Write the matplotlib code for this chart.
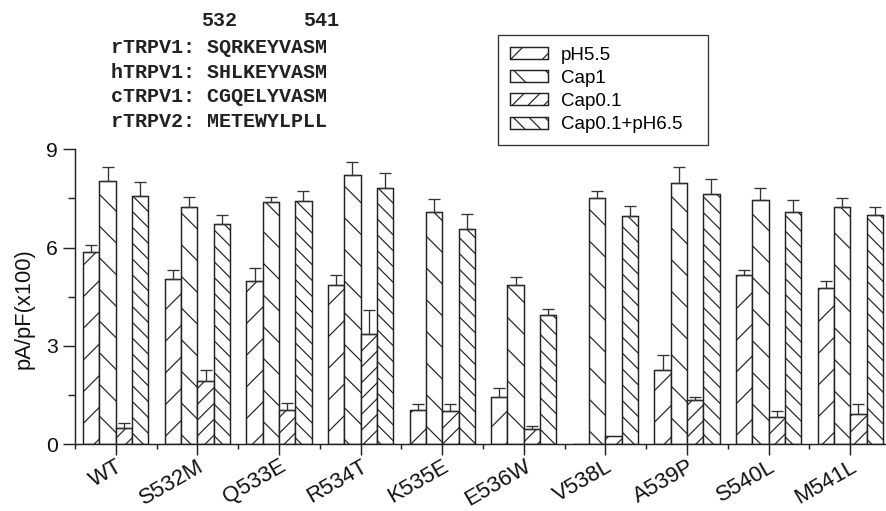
import numpy as np
import matplotlib
matplotlib.use('Agg')
import matplotlib.pyplot as plt
from matplotlib.ticker import FixedLocator

W, H, DPI = 887, 511, 190

mutants = ['WT', 'S532M', 'Q533E', 'R534T', 'K535E', 'E536W',
           'V538L', 'A539P', 'S540L', 'M541L']
series = ['pH5.5', 'Cap1', 'Cap0.1', 'Cap0.1+pH6.5']

ph55 = [5.85, 5.03, 4.97, 4.85, 1.03, 1.45, 0.0, 2.26, 5.15, 4.76]
ph55_err = [0.22, 0.27, 0.42, 0.32, 0.18, 0.25, 0.0, 0.45, 0.16, 0.23]
cap1 = [8.03, 7.25, 7.39, 8.20, 7.09, 4.87, 7.50, 7.98, 7.46, 7.24]
cap1_err = [0.42, 0.28, 0.14, 0.42, 0.38, 0.23, 0.22, 0.47, 0.35, 0.27]
cap01 = [0.50, 1.93, 1.03, 3.35, 1.01, 0.45, 0.24, 1.33, 0.81, 0.93]
cap01_err = [0.13, 0.32, 0.21, 0.73, 0.20, 0.11, 0.0, 0.10, 0.21, 0.30]
cap01_ph65 = [7.58, 6.71, 7.42, 7.82, 6.57, 3.95, 6.96, 7.63, 7.09, 6.98]
cap01_ph65_err = [0.41, 0.29, 0.30, 0.45, 0.46, 0.18, 0.32, 0.47, 0.35, 0.26]

seq_names = ['rTRPV1:', 'hTRPV1:', 'cTRPV1:', 'rTRPV2:']
seq_res = ['SQRKEYVASM', 'SHLKEYVASM', 'CGQELYVASM', 'METEWYLPLL']

plt.rcParams['font.family'] = ['Liberation Sans', 'DejaVu Sans']
plt.rcParams['hatch.linewidth'] = 0.45
plt.rcParams['hatch.color'] = '#2a2a2a'

fig = plt.figure(figsize=(W / DPI, H / DPI), dpi=DPI)
# axes spans x=-0.5 .. 9.5, right end goes a bit past the image edge
ax = fig.add_axes([75 / W, (H - 444) / H, 816 / W, 294.7 / H])

x = np.arange(len(mutants))
vals = [ph55, cap1, cap01, cap01_ph65]
errs = [ph55_err, cap1_err, cap01_err, cap01_ph65_err]
# at this dpi a single '/' is very sparse, so double up
hatches = ['//', '\\\\', '////', '\\\\\\\\']
bw = 0.2
for i, (v, e, h, lab) in enumerate(zip(vals, errs, hatches, series)):
    pos = x + (i - 1.5) * bw
    v = np.array(v)
    e = np.array(e)
    ax.bar(pos, v, width=bw, facecolor='white', edgecolor='#222222',
           linewidth=0.55, hatch=h, label=lab, zorder=2)
    m = e > 0
    ax.errorbar(pos[m], v[m], yerr=[np.zeros(m.sum()), e[m]], fmt='none',
                ecolor='#333333', elinewidth=0.5, capsize=2.1, capthick=0.5,
                zorder=3)

ax.set_xlim(-0.5, 9.5)
ax.set_ylim(0, 9)
ax.spines['top'].set_visible(False)
ax.spines['right'].set_visible(False)
for s in ['left', 'bottom']:
    ax.spines[s].set_linewidth(0.55)
    ax.spines[s].set_color('#222222')

ax.set_yticks([0, 3, 6, 9])
ax.yaxis.set_minor_locator(FixedLocator([1.5, 4.5, 7.5]))
ax.set_xticks(x)
ax.xaxis.set_minor_locator(FixedLocator(np.arange(-0.5, 10, 1.0)))
ax.tick_params(axis='y', which='major', length=4.5, width=0.55, color='#222222',
               pad=1.9, labelsize=8.0, labelcolor='#111111')
ax.tick_params(axis='y', which='minor', length=2.6, width=0.55, color='#222222')
ax.tick_params(axis='x', which='major', length=4.2, width=0.55, color='#222222',
               pad=0.3)
ax.tick_params(axis='x', which='minor', length=2.0, width=0.55, color='#222222')
ax.set_xticklabels(mutants, rotation=30, ha='right', va='top',
                   rotation_mode='anchor', fontsize=8.4, color='#111111')

ax.set_ylabel('pA/pF(x100)', fontsize=8.3, color='#111111')
ax.yaxis.set_label_coords(-0.049, 0.458)

leg = ax.legend(loc='upper left', bbox_to_anchor=(498 / W, 1 - 144 / H, 210 / W, 109 / H),
                bbox_transform=fig.transFigure, mode='expand', ncol=1,
                fontsize=7.1, frameon=True, fancybox=False, borderaxespad=0,
                borderpad=0.62, labelspacing=0.33, handlelength=2.05,
                handleheight=0.6, handletextpad=0.68)
leg.get_frame().set_edgecolor('#333333')
leg.get_frame().set_linewidth(0.5)
leg.get_frame().set_alpha(1)

# sequence alignment text
mono = dict(family='Liberation Mono', weight='bold', fontsize=7.6, color='#222222')
fig.text(219 / W, 1 - 20.7 / H, '532', ha='center', va='center', **mono)
fig.text(321 / W, 1 - 20.7 / H, '541', ha='center', va='center', **mono)
row_y = [47.7, 72.7, 96.7, 121.7]
for yy, nm, rs in zip(row_y, seq_names, seq_res):
    fig.text(111 / W, 1 - yy / H, nm + ' ' + rs, ha='left', va='center', **mono)

fig.savefig('out.png', dpi=DPI)
